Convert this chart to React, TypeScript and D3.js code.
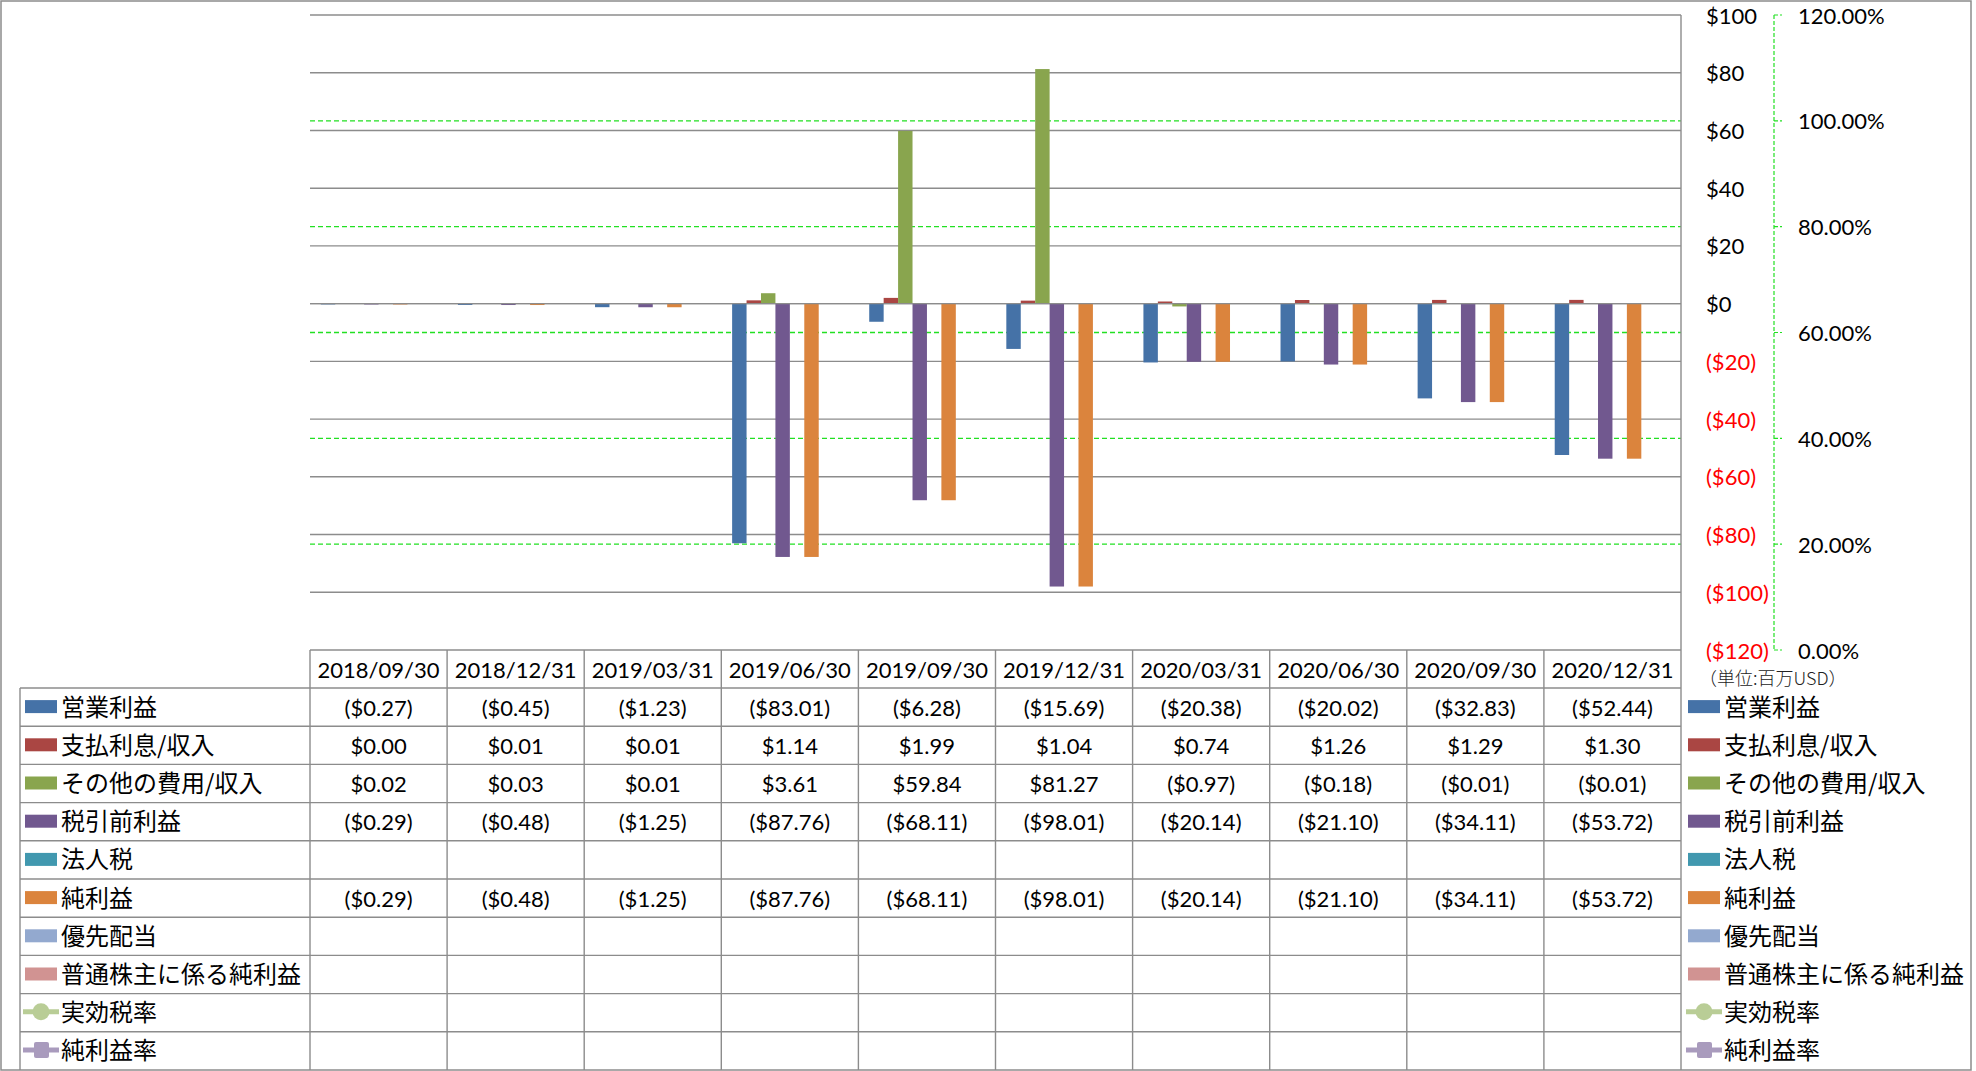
import React from 'react';
import * as d3 from 'd3';

const categories = ['2018/09/30', '2018/12/31', '2019/03/31', '2019/06/30', '2019/09/30', '2019/12/31', '2020/03/31', '2020/06/30', '2020/09/30', '2020/12/31'];

const seriesNames = ['営業利益', '支払利息/収入', 'その他の費用/収入', '税引前利益', '法人税', '純利益', '優先配当', '普通株主に係る純利益', '実効税率', '純利益率'];
const seriesColors = ['#4572A7', '#AA4643', '#89A54E', '#71588F', '#4198AF', '#DB843D', '#93A9CF', '#D19392', '#B9CD96', '#A99BBD'];
const seriesKinds = ['bar', 'bar', 'bar', 'bar', 'bar', 'bar', 'bar', 'bar', 'lineCircle', 'lineSquare'];

const operatingIncome = [-0.27, -0.45, -1.23, -83.01, -6.28, -15.69, -20.38, -20.02, -32.83, -52.44];
const interestIncome = [0.0, 0.01, 0.01, 1.14, 1.99, 1.04, 0.74, 1.26, 1.29, 1.3];
const otherIncome = [0.02, 0.03, 0.01, 3.61, 59.84, 81.27, -0.97, -0.18, -0.01, -0.01];
const pretaxIncome = [-0.29, -0.48, -1.25, -87.76, -68.11, -98.01, -20.14, -21.1, -34.11, -53.72];
const incomeTax: (number | null)[] = [null, null, null, null, null, null, null, null, null, null];
const netIncome = [-0.29, -0.48, -1.25, -87.76, -68.11, -98.01, -20.14, -21.1, -34.11, -53.72];
const preferredDividend: (number | null)[] = [null, null, null, null, null, null, null, null, null, null];
const netIncomeCommon: (number | null)[] = [null, null, null, null, null, null, null, null, null, null];
const effectiveTaxRate: (number | null)[] = [null, null, null, null, null, null, null, null, null, null];
const netMargin: (number | null)[] = [null, null, null, null, null, null, null, null, null, null];

const yTicks = [100, 80, 60, 40, 20, 0, -20, -40, -60, -80, -100, -120];
const y2Ticks = [1.2, 1.0, 0.8, 0.6, 0.4, 0.2, 0.0];
const unitLabel = '（単位:百万USD）';

const allSeries: (number | null)[][] = [operatingIncome, interestIncome, otherIncome, pretaxIncome, incomeTax, netIncome, preferredDividend, netIncomeCommon, effectiveTaxRate, netMargin];

const W = 1976;
const H = 1071;
const plotLeft = 310;
const plotRight = 1681;
const plotTop = 15;
const plotBottom = 650;
const tableBottom = 1070;
const legendLeft = 20;

const numFont = 'Lato, "Noto Sans", sans-serif';
const jpFont = '"Noto Sans CJK JP", sans-serif';
const gridColor = '#8c8c8c';
const greenDash = '#22e022';

function fmtMoney(v: number | null): string {
  if (v === null || v === undefined) return '';
  if (v < 0) return `($${Math.abs(v).toFixed(2)})`;
  return `$${v.toFixed(2)}`;
}
function fmtAxis(v: number): string {
  return v < 0 ? `($${-v})` : `$${v}`;
}

export default function App() {
  const y = d3.scaleLinear().domain([-120, 100]).range([plotBottom, plotTop]);
  const y2 = d3.scaleLinear().domain([0, 1.2]).range([plotBottom, plotTop]);
  const x = d3.scaleBand<string>().domain(categories).range([plotLeft, plotRight]).paddingInner(0).paddingOuter(0);
  const barSeriesIdx = seriesKinds.map((k, i) => (k === 'bar' ? i : -1)).filter((i) => i >= 0);
  const xs = d3
    .scaleBand<number>()
    .domain(barSeriesIdx)
    .range([0, x.bandwidth()])
    .paddingInner(0)
    .paddingOuter(0.75);
  const headerBottom = plotBottom + 38;
  const rowH = (tableBottom - headerBottom) / seriesNames.length;
  const rowTop = (i: number) => headerBottom + i * rowH;

  return (
    <svg width={W} height={H} style={{ position: 'absolute', left: 0, top: 0, background: '#fff' }}>
      <rect x={0} y={0} width={W} height={H} fill="#fff" />
      {/* outer border */}
      <rect x={1} y={1} width={1970} height={1069} fill="none" stroke={gridColor} strokeWidth={1.5} />

      {/* gridlines */}
      {yTicks.map((t) => (
        <line key={'g' + t} x1={plotLeft} x2={plotRight} y1={y(t)} y2={y(t)} stroke={gridColor} strokeWidth={1.4} />
      ))}
      {/* secondary dashed gridlines */}
      {y2Ticks
        .filter((t) => t > 0 && t < 1.2)
        .map((t) => (
          <line key={'g2' + t} x1={plotLeft} x2={plotRight} y1={y2(t)} y2={y2(t)} stroke={greenDash} strokeWidth={1.4} strokeDasharray="5,3" />
        ))}

      {/* bars */}
      {barSeriesIdx.map((si) =>
        allSeries[si].map((v, ci) => {
          if (v === null || v === undefined) return null;
          const bx = (x(categories[ci]) as number) + (xs(si) as number);
          const y0 = y(0);
          const yv = y(v);
          return (
            <rect
              key={`b${si}-${ci}`}
              x={bx}
              y={Math.min(y0, yv)}
              width={xs.bandwidth()}
              height={Math.abs(yv - y0)}
              fill={seriesColors[si]}
            />
          );
        })
      )}
      {/* zero line on top */}
      <line x1={plotLeft} x2={plotRight} y1={y(0)} y2={y(0)} stroke={gridColor} strokeWidth={1.2} />

      {/* right plot border */}
      <line x1={plotRight} x2={plotRight} y1={plotTop} y2={tableBottom} stroke={gridColor} strokeWidth={1.4} />

      {/* primary axis labels */}
      {yTicks.map((t) => (
        <text
          key={'yl' + t}
          x={1706}
          y={y(t)}
          dominantBaseline="central"
          fontFamily={numFont}
          fontSize={22}
          fill={t < 0 ? '#ff0000' : '#000'}
        >
          {fmtAxis(t)}
        </text>
      ))}

      {/* secondary axis */}
      <line x1={1774} x2={1774} y1={plotTop} y2={plotBottom} stroke={greenDash} strokeWidth={1.2} strokeDasharray="4,2" />
      {y2Ticks.map((t) => (
        <g key={'y2' + t}>
          <line x1={1774} x2={1782} y1={y2(t)} y2={y2(t)} stroke={greenDash} strokeWidth={1.2} strokeDasharray="4,2" />
          <text x={1798} y={y2(t)} dominantBaseline="central" fontFamily={numFont} fontSize={22} fill="#000">
            {(t * 100).toFixed(2) + '%'}
          </text>
        </g>
      ))}
      <text x={1699} y={677} dominantBaseline="central" fontFamily={jpFont} fontSize={18} fontWeight={300} fill="#222">
        {unitLabel}
      </text>

      {/* data table header */}
      {categories.map((c) => (
        <text
          key={'h' + c}
          x={(x(c) as number) + x.bandwidth() / 2}
          y={(plotBottom + headerBottom) / 2}
          textAnchor="middle"
          dominantBaseline="central"
          fontFamily={numFont}
          fontSize={22}
          fill="#000"
        >
          {c}
        </text>
      ))}
      {/* horizontal row lines */}
      {seriesNames.map((_, i) => (
        <line key={'rl' + i} x1={legendLeft} x2={plotRight} y1={rowTop(i)} y2={rowTop(i)} stroke={gridColor} strokeWidth={1.4} />
      ))}
      {/* vertical lines */}
      <line x1={legendLeft} x2={legendLeft} y1={headerBottom} y2={tableBottom} stroke={gridColor} strokeWidth={1.4} />
      {categories.map((c) => (
        <line key={'vl' + c} x1={x(c) as number} x2={x(c) as number} y1={plotBottom} y2={tableBottom} stroke={gridColor} strokeWidth={1.4} />
      ))}

      {/* rows */}
      {seriesNames.map((name, i) => {
        const cy = rowTop(i) + rowH / 2;
        const kind = seriesKinds[i];
        const col = seriesColors[i];
        const marker = (mx: number) => {
          if (kind === 'bar') return <rect x={mx} y={cy - 7} width={32} height={13} fill={col} />;
          if (kind === 'lineCircle')
            return (
              <g>
                <line x1={mx - 2} x2={mx + 34} y1={cy - 1} y2={cy - 1} stroke={col} strokeWidth={5} />
                <circle cx={mx + 16} cy={cy - 1} r={8.5} fill={col} />
              </g>
            );
          return (
            <g>
              <line x1={mx - 2} x2={mx + 34} y1={cy - 1} y2={cy - 1} stroke={col} strokeWidth={5} />
              <rect x={mx + 9} y={cy - 9} width={15} height={16} rx={2} fill={col} />
            </g>
          );
        };
        return (
          <g key={'row' + i}>
            {marker(25)}
            <text x={61} y={cy - 2} dominantBaseline="central" fontFamily={jpFont} fontSize={24} fill="#000">
              {name}
            </text>
            {marker(1688)}
            <text x={1724} y={cy - 2} dominantBaseline="central" fontFamily={jpFont} fontSize={24} fill="#000">
              {name}
            </text>
            {allSeries[i].map((v, ci) => (
              <text
                key={'v' + ci}
                x={(x(categories[ci]) as number) + x.bandwidth() / 2}
                y={cy}
                textAnchor="middle"
                dominantBaseline="central"
                fontFamily={numFont}
                fontSize={22}
                fill="#000"
              >
                {fmtMoney(v)}
              </text>
            ))}
          </g>
        );
      })}
    </svg>
  );
}
